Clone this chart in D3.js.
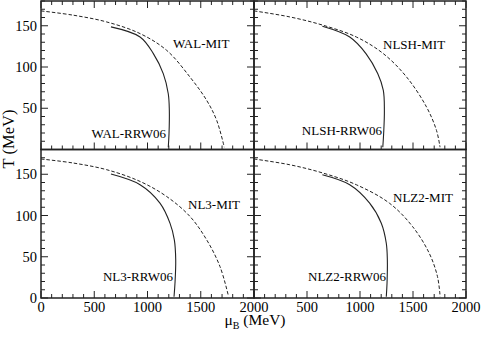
<!DOCTYPE html>
<html><head><meta charset="utf-8">
<script src="https://cdn.jsdelivr.net/npm/d3@7/dist/d3.min.js"></script>
<style>body{margin:0;background:#fff}svg{display:block}text{font-family:"Liberation Serif","Times New Roman",serif;fill:#000}</style>
</head><body><svg id="c" width="481" height="338"></svg>
<script>
// Panels and labels
const panelNames = ["WAL", "NLSH", "NL3", "NLZ2"];
const mitLabels = ["WAL-MIT", "NLSH-MIT", "NL3-MIT", "NLZ2-MIT"];
const rrwLabels = ["WAL-RRW06", "NLSH-RRW06", "NL3-RRW06", "NLZ2-RRW06"];
const xTicksMajor = [0, 500, 1000, 1500, 2000];
const yTicksMajor = [0, 50, 100, 150];
// MIT (dashed) curves: [muB, T]
const mitWAL  = [[0,168],[303,162.8],[617,154.6],[930,140.5],[1180,120.2],[1399,87.8],[1556,59.5],[1650,35.2],[1721,2.8]];
const mitNLSH = [[0,168],[338,160.7],[652,150.6],[965,136.4],[1220,116.2],[1440,87.8],[1628,51.4],[1722,23],[1755,2.8]];
const mitNL3  = [[0,168.5],[303,163.6],[617,155.5],[930,141.3],[1180,123],[1399,98.8],[1556,70.4],[1681,38],[1759,3]];
const mitNLZ2 = [[0,168.5],[338,161.5],[652,151.4],[965,137.3],[1277,115],[1496,86.6],[1653,54.3],[1731,25.9],[1756,1.6]];
// RRW06 (solid) curves: [muB, T]
const rrwWAL  = [[657,148.6],[930,136.4],[1055,116.2],[1148,92],[1195,67.6],[1205,47.4],[1202,19],[1195,2.8]];
const rrwNLSH = [[645,149.4],[903,136.4],[1058,116],[1167,92],[1220,71.7],[1230,47.4],[1223,19],[1215,2.8]];
const rrwNL3  = [[657,150.2],[930,137.3],[1117,115],[1211,90.7],[1252,70.4],[1265,46],[1258,17.8],[1249,1.6]];
const rrwNLZ2 = [[645,149.4],[903,137.3],[1091,115],[1201,90.7],[1248,66.4],[1258,46],[1255,17.8],[1248,1.6]];
const mitData = [mitWAL, mitNLSH, mitNL3, mitNLZ2];
const rrwData = [rrwWAL, rrwNLSH, rrwNL3, rrwNLZ2];

const svg = d3.select("#c");
const X0 = 41, XM = 254, X1 = 466, Y0 = 1, YM = 149.5, Y1 = 298;
const panels = [
  {x:[X0,XM], y:[Y0,YM], col:0, row:0},
  {x:[XM,X1], y:[Y0,YM], col:1, row:0},
  {x:[X0,XM], y:[YM,Y1], col:0, row:1},
  {x:[XM,X1], y:[YM,Y1], col:1, row:1}
];
// label positions (baseline) per panel
const mitPos = [[173,48],[383,49],[188,209],[393,202]];
const rrwPos = [[166,137.5],[382,135],[173,281],[386,281]];

const line = d3.line().curve(d3.curveCatmullRom.alpha(0.5));
panels.forEach((p, i) => {
  const x = d3.scaleLinear().domain([0,2000]).range(p.x);
  const y = d3.scaleLinear().domain([0,180]).range([p.y[1], p.y[0]]);
  const g = svg.append("g");
  line.x(d => x(d[0])).y(d => y(d[1]));
  g.append("path").attr("d", line(mitData[i])).attr("fill","none").attr("stroke","#222").attr("stroke-width",1).attr("stroke-dasharray","3.5,2");
  g.append("path").attr("d", line(rrwData[i])).attr("fill","none").attr("stroke","#222").attr("stroke-width",1.1);
  // ticks
  const minorX = d3.range(0, 2001, 100), minorY = d3.range(0, 181, 10);
  const drawXTicks = (yy, dir) => minorX.forEach(v => {
    const L = v % 500 === 0 ? 7 : 4;
    g.append("line").attr("x1", x(v)).attr("x2", x(v)).attr("y1", yy).attr("y2", yy + dir*L).attr("stroke","#222").attr("stroke-width",1);
  });
  const drawYTicks = (xx, dir) => minorY.forEach(v => {
    const L = v % 50 === 0 ? 7 : 4;
    g.append("line").attr("y1", y(v)).attr("y2", y(v)).attr("x1", xx).attr("x2", xx + dir*L).attr("stroke","#222").attr("stroke-width",1);
  });
  drawXTicks(p.y[1], -1);
  if (p.row === 0) drawXTicks(p.y[0], 1);
  drawYTicks(p.x[0], 1);
  drawYTicks(p.x[1], -1);
  // frame
  g.append("rect").attr("x", p.x[0]).attr("y", p.y[0]).attr("width", p.x[1]-p.x[0]).attr("height", p.y[1]-p.y[0])
    .attr("fill","none").attr("stroke","#222").attr("stroke-width",1.5);
  // tick labels
  if (p.col === 0) {
    yTicksMajor.filter(v => p.row === 1 || v !== 0).forEach(v => {
      svg.append("text").attr("x", 37).attr("y", y(v)).attr("dy","0.35em").attr("text-anchor","end").attr("font-size",14.5).text(v);
    });
  }
  if (p.row === 1) {
    xTicksMajor.filter(v => p.col === 0 || v !== 0).forEach(v => {
      svg.append("text").attr("x", x(v)).attr("y", 312).attr("text-anchor","middle").attr("font-size",14.5).text(v);
    });
  }
  // curve labels
  svg.append("text").attr("x", mitPos[i][0]).attr("y", mitPos[i][1]).attr("font-size",13).text(mitLabels[i]);
  svg.append("text").attr("x", rrwPos[i][0]).attr("y", rrwPos[i][1]).attr("text-anchor","end").attr("font-size",13).text(rrwLabels[i]);
});
// axis titles
svg.append("text").attr("transform","translate(14,139) rotate(-90)").attr("text-anchor","middle").attr("font-size",16.5).text("T (MeV)");
const xt = svg.append("text").attr("x", 255).attr("y", 325).attr("text-anchor","middle").attr("font-size",15.5);
xt.append("tspan").text("μ");
xt.append("tspan").attr("font-size",10).attr("dy",4).text("B");
xt.append("tspan").attr("dy",-4).text(" (MeV)");
</script></body></html>
